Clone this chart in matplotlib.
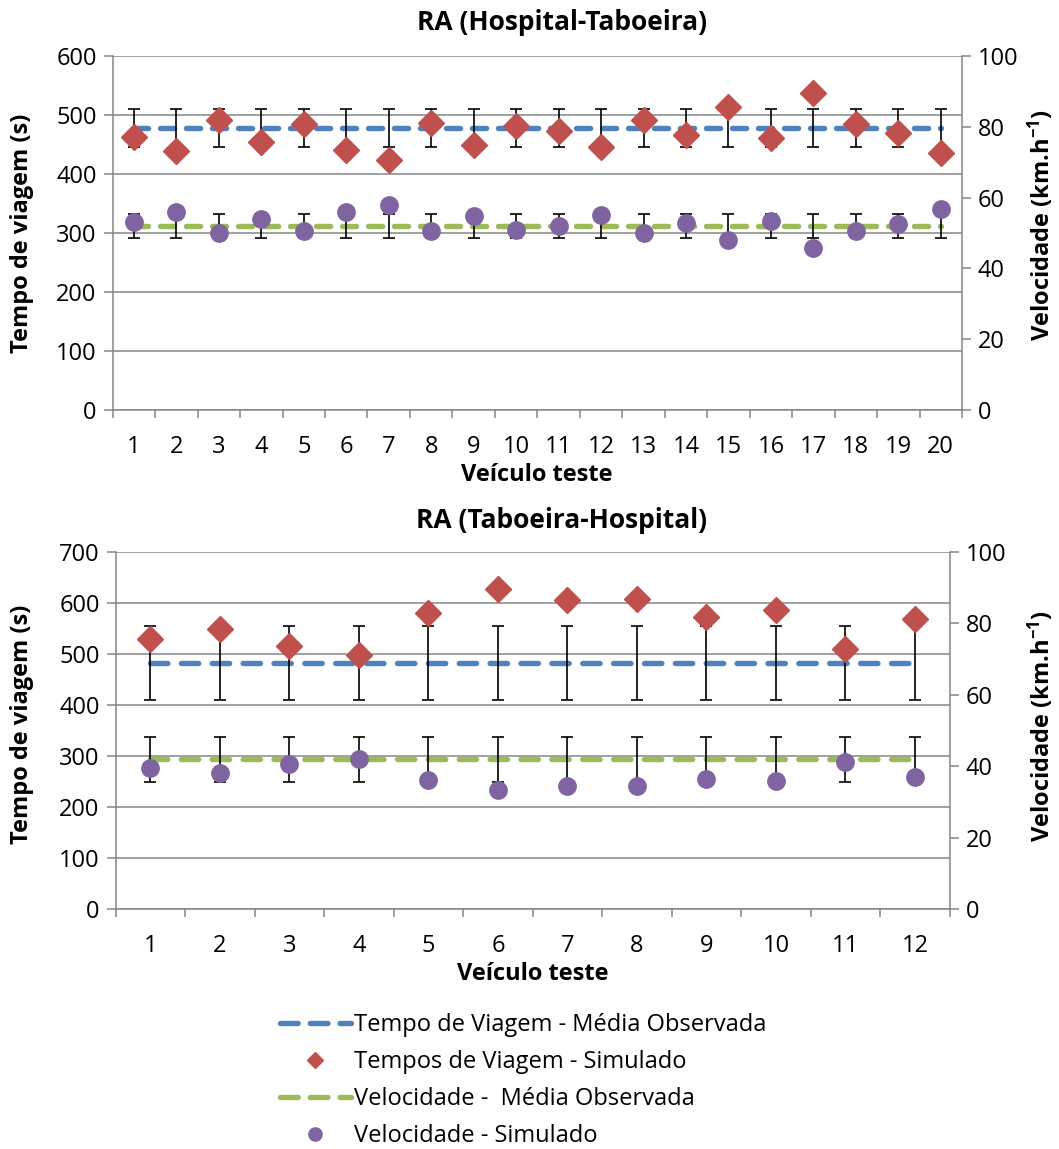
import numpy as np
import matplotlib.pyplot as plt
from matplotlib.lines import Line2D

plt.rcParams['font.family'] = ['Open Sans', 'DejaVu Sans']
plt.rcParams['mathtext.fontset'] = 'custom'
plt.rcParams['mathtext.rm'] = 'Open Sans'
plt.rcParams['mathtext.bf'] = 'Open Sans:bold'

# --------------------------
# Dados
# --------------------------

# RA (Hospital-Taboeira)
veiculos_1 = list(range(1, 21))
tempo_sim_1 = [463, 439, 492, 454, 484, 440, 423, 486, 449, 481,
               473, 446, 491, 466, 513, 461, 537, 485, 470, 435]
vel_sim_1 = [53.1, 56.0, 49.9, 54.0, 50.6, 55.9, 58.0, 50.5, 54.9, 50.8,
             52.1, 55.2, 50.1, 52.8, 48.0, 53.3, 45.8, 50.6, 52.5, 56.7]
tempo_obs_1 = 478      # média observada (s)
tempo_dp_1 = 32.5      # barra de erro (s)
vel_obs_1 = 52.0       # média observada (km/h)
vel_dp_1 = 3.5

# RA (Taboeira-Hospital)
veiculos_2 = list(range(1, 13))
tempo_sim_2 = [529, 550, 516, 498, 580, 627, 605, 608, 573, 586, 509, 569]
vel_sim_2 = [39.6, 38.1, 40.7, 42.2, 36.2, 33.5, 34.6, 34.4, 36.6, 35.9, 41.3, 36.9]
tempo_obs_2 = 483
tempo_dp_2 = 72.7
vel_obs_2 = 42.0
vel_dp_2 = 6.3

rotulos = ['Tempo de Viagem - Média Observada',
           'Tempos de Viagem - Simulado',
           'Velocidade -  Média Observada',
           'Velocidade - Simulado']

AZUL = '#4F81BD'
VERMELHO = '#C0504D'
VERDE = '#9BBB59'
ROXO = '#8064A2'
CINZA = '#868686'
FS = 17

W, H = 1059, 1149
fig = plt.figure(figsize=(W / 100, H / 100), dpi=100)


def px(x, y):
    return x / W, 1 - y / H


# --------------------------
# Função de gráfico
# --------------------------
def grafico(rect, veiculos, tempo_sim, vel_sim, tempo_obs, tempo_dp,
            vel_obs, vel_dp, ymax, traco):
    n = len(veiculos)
    x = np.arange(1, n + 1)

    ax = fig.add_axes(rect)
    ax.set_axisbelow(True)
    ax.plot(x, [tempo_obs] * n, color=AZUL, lw=3.9, dashes=traco,
            dash_capstyle='round', zorder=2)
    ax.errorbar(x, [tempo_obs] * n, yerr=tempo_dp, fmt='none', ecolor='black',
                elinewidth=1.2, capsize=4.3, capthick=1.2, zorder=3)
    ax.plot(x, tempo_sim, ls='none', marker='D', ms=13, color=VERMELHO, zorder=4)

    ax.set_xlim(0.5, n + 0.5)
    ax.set_ylim(0, ymax)
    ax.set_yticks(np.arange(0, ymax + 1, 100))
    ax.yaxis.grid(True, color=CINZA, lw=1.1)
    ax.set_xticks(x)
    ax.set_xticklabels([str(v) for v in veiculos])
    ax.set_xticks(np.arange(0.5, n + 1), minor=True)
    ax.tick_params(axis='x', which='major', length=0, pad=18, labelsize=FS)
    ax.tick_params(axis='x', which='minor', length=6, width=1.1, color=CINZA)
    ax.tick_params(axis='y', length=6.5, width=1.1, color=CINZA, pad=5, labelsize=FS)
    for lado in ['top', 'right']:
        ax.spines[lado].set_visible(False)
    for lado in ['left', 'bottom']:
        ax.spines[lado].set_color(CINZA)
        ax.spines[lado].set_linewidth(1.1)

    ax2 = ax.twinx()
    ax2.plot(x, [vel_obs] * n, color=VERDE, lw=3.9, dashes=traco,
             dash_capstyle='round', zorder=2)
    ax2.errorbar(x, [vel_obs] * n, yerr=vel_dp, fmt='none', ecolor='black',
                 elinewidth=1.2, capsize=4.3, capthick=1.2, zorder=3)
    ax2.plot(x, vel_sim, ls='none', marker='o', ms=12.5, color=ROXO, zorder=4)
    ax2.set_ylim(0, 100)
    ax2.set_yticks(np.arange(0, 101, 20))
    ax2.tick_params(axis='y', length=6.5, width=1.1, color=CINZA, pad=5, labelsize=FS)
    for lado in ['top', 'left', 'bottom']:
        ax2.spines[lado].set_visible(False)
    ax2.spines['right'].set_color(CINZA)
    ax2.spines['right'].set_linewidth(1.1)
    return ax, ax2


# Gráfico superior
grafico([112.7 / W, 1 - 410 / H, 849.3 / W, 354 / H], veiculos_1, tempo_sim_1,
        vel_sim_1, tempo_obs_1, tempo_dp_1, vel_obs_1, vel_dp_1, 600, (2.6, 2.2))
fig.text(*px(562, 22), 'RA (Hospital-Taboeira)', ha='center', va='center',
         fontsize=19, fontweight='bold')
fig.text(*px(22, 233), 'Tempo de viagem (s)', ha='center', va='center',
         rotation=90, fontsize=FS, fontweight='bold')
fig.text(*px(1041, 225), 'Velocidade (km.h$\\mathbf{^{-1}}$)', ha='center',
         va='center', rotation=90, fontsize=FS, fontweight='bold')
fig.text(*px(537, 475), 'Veículo teste', ha='center', va='center',
         fontsize=FS, fontweight='bold')

# Gráfico inferior
grafico([115.7 / W, 1 - 909.3 / H, 834 / W, 357.3 / H], veiculos_2, tempo_sim_2,
        vel_sim_2, tempo_obs_2, tempo_dp_2, vel_obs_2, vel_dp_2, 700, (3.2, 2.5))
fig.text(*px(561, 520), 'RA (Taboeira-Hospital)', ha='center', va='center',
         fontsize=19, fontweight='bold')
fig.text(*px(22, 724), 'Tempo de viagem (s)', ha='center', va='center',
         rotation=90, fontsize=FS, fontweight='bold')
fig.text(*px(1041, 726), 'Velocidade (km.h$\\mathbf{^{-1}}$)', ha='center',
         va='center', rotation=90, fontsize=FS, fontweight='bold')
fig.text(*px(533, 974), 'Veículo teste', ha='center', va='center',
         fontsize=FS, fontweight='bold')

# Legenda
handles = [
    Line2D([], [], color=AZUL, lw=3.9, dashes=(3.26, 2.24), dash_capstyle='round'),
    Line2D([], [], ls='none', marker='D', ms=8, color=VERMELHO),
    Line2D([], [], color=VERDE, lw=3.9, dashes=(3.26, 2.24), dash_capstyle='round'),
    Line2D([], [], ls='none', marker='o', ms=9.5, color=ROXO),
]
fig.legend(handles, rotulos, loc='upper left', bbox_to_anchor=px(280, 1013),
           frameon=False, fontsize=FS, handlelength=3.0, handletextpad=0.15,
           borderpad=0, borderaxespad=0, labelspacing=0.55)

plt.savefig('out.png', dpi=100)
